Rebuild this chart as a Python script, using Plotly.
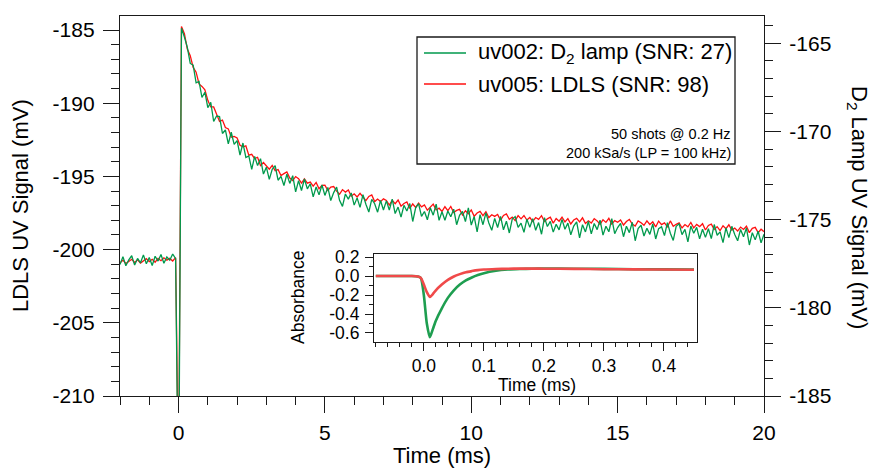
import plotly.graph_objects as go

# ---------------- data ----------------
# main traces sampled every 0.1 ms from -2.0 ms to 20.0 ms
t_start = -2.0
t_step = 0.1

ldls_mV = [
    -200.90, -200.72, -200.95, -200.78, -200.66, -200.88, -200.70, -200.92, -200.74, -200.62,
    -200.82, -200.66, -200.86, -200.60, -200.76, -200.56, -200.72, -200.60, -200.78, -200.55,
    -216.00,
    -184.75, -185.25, -186.30, -186.75, -187.55, -187.88, -188.68, -188.85, -189.08, -189.80,
    -190.25, -190.25, -190.73, -191.24, -191.15, -191.66, -191.75, -192.32, -192.27, -192.37,
    -192.87, -192.98, -192.91, -193.55, -193.49, -193.78, -193.69, -194.26, -194.05, -194.25,
    -194.50, -194.24, -194.60, -194.53, -194.94, -194.81, -194.69, -195.11, -195.28, -195.01,
    -195.15, -195.46, -195.17, -195.46, -195.39, -195.66, -195.41, -195.84, -195.61, -195.59,
    -195.96, -195.73, -195.69, -196.01, -196.22, -195.90, -196.07, -195.93, -196.35, -196.19,
    -196.40, -196.15, -196.40, -196.65, -196.37, -196.26, -196.72, -196.55, -196.72, -196.53,
    -196.64, -196.95, -196.63, -196.86, -196.61, -197.03, -196.85, -196.74, -197.19, -196.88,
    -197.11, -196.82, -197.08, -196.95, -197.31, -197.06, -196.89, -197.29, -197.17, -197.39,
    -197.07, -197.33, -197.05, -197.46, -197.32, -197.25, -197.64, -197.34, -197.55, -197.29,
    -197.72, -197.50, -197.39, -197.68, -197.41, -197.81, -197.62, -197.73, -197.59, -197.99,
    -197.67, -197.56, -197.93, -197.78, -198.02, -197.68, -197.90, -197.67, -197.98, -197.81,
    -198.07, -197.81, -197.93, -197.68, -198.08, -197.90, -197.78, -198.19, -197.87, -198.06,
    -197.79, -198.11, -197.88, -198.25, -197.98, -197.87, -198.11, -197.83, -198.21, -198.03,
    -198.19, -197.88, -198.04, -198.28, -197.96, -198.14, -197.86, -198.26, -198.02, -198.13,
    -197.97, -198.32, -198.08, -197.94, -198.26, -198.39, -198.04, -198.17, -198.34, -198.03,
    -198.28, -198.10, -198.45, -198.05, -198.29, -198.17, -198.44, -198.04, -198.41, -198.27,
    -198.17, -198.52, -198.29, -198.44, -198.14, -198.51, -198.28, -198.43, -198.23, -198.66,
    -198.35, -198.26, -198.62, -198.43, -198.70, -198.37, -198.57, -198.30, -198.66, -198.53,
    -198.73, -198.46, -198.62, -198.40, -198.84, -198.55, -198.48, -198.84, -198.61, -198.77,
]

d2_mV = [
    -177.55, -177.10, -177.62, -177.28, -177.05, -177.58, -177.20, -177.45, -177.00, -177.50,
    -177.15, -177.60, -177.08, -177.35, -176.98, -177.48, -177.12, -177.30, -176.95, -177.22,
    -192.00,
    -164.15, -164.65, -165.24, -166.15, -166.25, -167.25, -167.17, -168.08, -167.78, -168.66,
    -168.35, -169.44, -169.13, -169.16, -170.12, -169.92, -170.71, -170.05, -170.74, -170.52,
    -171.34, -170.66, -171.48, -171.39, -172.15, -171.42, -171.94, -171.55, -172.42, -172.03,
    -172.72, -172.15, -171.94, -172.77, -172.55, -173.07, -172.43, -172.95, -172.51, -173.43,
    -172.79, -173.35, -172.70, -173.26, -172.97, -173.71, -173.15, -173.60, -173.04, -173.63,
    -173.18, -173.92, -173.47, -173.16, -173.91, -174.25, -173.55, -173.84, -173.49, -174.18,
    -173.77, -174.31, -173.59, -174.13, -174.57, -173.86, -174.10, -174.58, -173.92, -174.46,
    -173.94, -174.46, -173.84, -174.66, -174.29, -174.86, -174.19, -174.51, -174.09, -175.11,
    -174.33, -174.10, -174.82, -174.54, -175.01, -174.33, -174.75, -174.12, -175.04, -174.56,
    -175.04, -174.51, -174.84, -174.41, -175.29, -174.76, -174.54, -175.11, -174.34, -175.31,
    -174.83, -175.70, -174.72, -175.29, -174.62, -175.19, -175.61, -174.93, -175.45, -174.82,
    -175.58, -175.09, -175.76, -174.97, -174.83, -175.44, -175.20, -175.72, -174.98, -175.44,
    -174.95, -175.61, -175.17, -175.83, -174.89, -175.39, -175.10, -175.71, -175.27, -175.58,
    -174.99, -175.55, -175.20, -175.86, -175.37, -175.13, -176.04, -175.29, -175.70, -175.11,
    -175.81, -175.22, -175.57, -175.03, -175.88, -175.38, -175.69, -174.94, -175.80, -175.45,
    -175.21, -175.97, -175.38, -175.74, -175.15, -176.20, -175.51, -175.32, -175.93, -175.49,
    -175.84, -175.25, -176.10, -175.51, -175.41, -175.91, -175.17, -175.77, -176.18, -175.38,
    -175.24, -175.85, -175.55, -176.26, -175.37, -175.78, -175.44, -176.09, -175.55, -176.01,
    -175.52, -176.08, -175.28, -175.89, -175.70, -176.31, -175.47, -176.02, -175.38, -175.84,
    -176.20, -175.56, -175.97, -175.48, -176.44, -175.74, -176.15, -175.66, -176.32, -175.83,
]

time_ms = [round(t_start + i * t_step, 2) for i in range(len(ldls_mV))]

# inset: absorbance
inset_time_ms = [-0.08, -0.06, -0.04, -0.02, -0.01, -0.005, 0.0, 0.005, 0.01, 0.015, 0.02,
                 0.03, 0.04, 0.05, 0.06, 0.07, 0.08, 0.09, 0.10, 0.12, 0.14, 0.16, 0.18,
                 0.20, 0.25, 0.30, 0.35, 0.40, 0.45]
inset_ldls_abs = [0.0, 0.0, 0.0, 0.0, -0.005, -0.02, -0.09, -0.17, -0.22, -0.19, -0.15,
                  -0.09, -0.04, -0.005, 0.02, 0.04, 0.052, 0.062, 0.068, 0.074, 0.077, 0.078,
                  0.078, 0.077, 0.075, 0.072, 0.070, 0.068, 0.066]
inset_d2_abs = [0.0, 0.0, 0.0, 0.0, -0.005, -0.02, -0.20, -0.50, -0.645, -0.56, -0.47,
                -0.34, -0.23, -0.15, -0.09, -0.045, -0.015, 0.01, 0.03, 0.055, 0.068, 0.074,
                0.077, 0.078, 0.077, 0.075, 0.072, 0.070, 0.068]

left_ticks = [-210, -205, -200, -195, -190, -185]
right_ticks = [-185, -180, -175, -170, -165]
inset_y_ticks = [-0.6, -0.4, -0.2, 0.0, 0.2]
inset_x_ticks = [0.0, 0.1, 0.2, 0.3, 0.4]

legend_labels = ["uv002: D<sub>2</sub> lamp (SNR: 27)", "uv005: LDLS (SNR: 98)"]
note_lines = ["50 shots @ 0.2 Hz", "200 kSa/s (LP = 100 kHz)"]

# ---------------- styling ----------------
FONT = "Liberation Sans, Arial, Helvetica, sans-serif"
GREEN = "#00994C"
RED = "#FF1010"
GREEN_I = "#1E9E50"
RED_I = "#F04A4A"
AX = "#1a1a1a"

W, H = 873, 468
L, R, T, B = 120, 109, 16, 72
pw, ph = W - L - R, H - T - B


def px(x):
    return (x - L) / pw


def py(y):
    return (H - B - y) / ph


def fmt(v):
    return "%g" % v


def fmt1(v):
    return "%.1f" % v


fig = go.Figure()
fig.add_trace(go.Scatter(x=time_ms, y=d2_mV, mode="lines", yaxis="y2",
                         line=dict(color=GREEN, width=1.3), showlegend=False))
fig.add_trace(go.Scatter(x=time_ms, y=ldls_mV, mode="lines", yaxis="y",
                         line=dict(color=RED, width=1.3), showlegend=False))
fig.add_trace(go.Scatter(x=inset_time_ms, y=inset_d2_abs, mode="lines", xaxis="x2", yaxis="y3",
                         line=dict(color=GREEN_I, width=2.6, shape="spline", smoothing=0.6),
                         showlegend=False))
fig.add_trace(go.Scatter(x=inset_time_ms, y=inset_ldls_abs, mode="lines", xaxis="x2", yaxis="y3",
                         line=dict(color=RED_I, width=2.6, shape="spline", smoothing=0.6),
                         showlegend=False))

tickfont = dict(family=FONT, size=21, color="#000")
inset_tickfont = dict(family=FONT, size=17.5, color="#000")

fig.update_layout(
    width=W, height=H,
    margin=dict(l=L, r=R, t=T, b=B, autoexpand=False),
    paper_bgcolor="white", plot_bgcolor="white",
    font=dict(family=FONT, color="#000"),
    xaxis=dict(domain=[0, 1], range=[-2, 20], tickmode="linear", tick0=0, dtick=5,
               ticks="outside", ticklen=16, tickwidth=1.3, tickcolor=AX,
               showline=True, linecolor=AX, linewidth=1.3, mirror=True,
               showgrid=False, zeroline=False, tickfont=tickfont, ticklabelstandoff=2,
               minor=dict(tickmode="linear", tick0=0, dtick=1, ticks="outside",
                          ticklen=8, tickwidth=1.3, tickcolor=AX, showgrid=False)),
    yaxis=dict(domain=[0, 1], range=[-210, -184.04], tickmode="array",
               tickvals=left_ticks, ticktext=[fmt(v) for v in left_ticks],
               ticks="outside", ticklen=16, tickwidth=1.3, tickcolor=AX,
               showline=True, linecolor=AX, linewidth=1.3,
               showgrid=False, zeroline=False, tickfont=tickfont, ticklabelstandoff=4,
               minor=dict(tickmode="linear", tick0=-210, dtick=1, ticks="outside",
                          ticklen=8, tickwidth=1.3, tickcolor=AX, showgrid=False)),
    yaxis2=dict(range=[-185, -163.46], overlaying="y", side="right", anchor="x",
                tickmode="array", tickvals=right_ticks, ticktext=[fmt(v) for v in right_ticks],
                ticks="outside", ticklen=16, tickwidth=1.3, tickcolor=AX,
                showline=True, linecolor=AX, linewidth=1.3,
                showgrid=False, zeroline=False, tickfont=tickfont, ticklabelstandoff=4,
                minor=dict(tickmode="linear", tick0=-185, dtick=1, ticks="outside",
                           ticklen=8, tickwidth=1.3, tickcolor=AX, showgrid=False)),
    xaxis2=dict(domain=[px(374), px(697)], anchor="y3", range=[-0.083, 0.455],
                tickmode="array", tickvals=inset_x_ticks, ticktext=[fmt1(v) for v in inset_x_ticks],
                ticks="outside", ticklen=8, tickwidth=1.2, tickcolor=AX,
                showline=True, linecolor=AX, linewidth=1.2, mirror=True,
                showgrid=False, zeroline=False, tickfont=inset_tickfont, ticklabelstandoff=0,
                minor=dict(tickmode="linear", tick0=0, dtick=0.02, ticks="outside",
                           ticklen=4, tickwidth=1.2, tickcolor=AX, showgrid=False)),
    yaxis3=dict(domain=[py(342), py(254)], anchor="x2", range=[-0.695, 0.232],
                tickmode="array", tickvals=inset_y_ticks,
                ticktext=[fmt1(v) for v in inset_y_ticks],
                ticks="outside", ticklen=8, tickwidth=1.2, tickcolor=AX,
                showline=True, linecolor=AX, linewidth=1.2, mirror=True,
                showgrid=False, zeroline=False, tickfont=inset_tickfont, ticklabelstandoff=2,
                minor=dict(tickmode="linear", tick0=0, dtick=0.1, ticks="outside",
                           ticklen=4, tickwidth=1.2, tickcolor=AX, showgrid=False)),
)

shapes = [
    # legend frame
    dict(type="rect", xref="paper", yref="paper", x0=px(417), x1=px(735), y0=py(164), y1=py(37),
         line=dict(color=AX, width=1.3), fillcolor="rgba(0,0,0,0)"),
    dict(type="line", xref="paper", yref="paper", x0=px(424), x1=px(466), y0=py(53), y1=py(53),
         line=dict(color=GREEN, width=1.3)),
    dict(type="line", xref="paper", yref="paper", x0=px(424), x1=px(466), y0=py(84), y1=py(84),
         line=dict(color=RED, width=1.3)),
]
fig.update_layout(shapes=shapes)

ann = [
    dict(text=legend_labels[0], x=px(476), y=py(53), xanchor="left", yanchor="middle",
         font=dict(family=FONT, size=22)),
    dict(text=legend_labels[1], x=px(476), y=py(84), xanchor="left", yanchor="middle",
         font=dict(family=FONT, size=22)),
    dict(text=note_lines[0], x=px(733), y=py(134), xanchor="right", yanchor="middle",
         font=dict(family=FONT, size=14.5)),
    dict(text=note_lines[1], x=px(733), y=py(153), xanchor="right", yanchor="middle",
         font=dict(family=FONT, size=14.5)),
    dict(text="LDLS UV Signal (mV)", x=px(20), y=py(206), textangle=-90,
         xanchor="center", yanchor="middle", font=dict(family=FONT, size=22)),
    dict(text="D<sub>2</sub> Lamp UV Signal (mV)", x=px(858), y=py(207), textangle=90,
         xanchor="center", yanchor="middle", font=dict(family=FONT, size=22)),
    dict(text="Time (ms)", x=px(442), y=py(455), xanchor="center", yanchor="middle",
         font=dict(family=FONT, size=22)),
    dict(text="Absorbance", x=px(298), y=py(298), textangle=-90,
         xanchor="center", yanchor="middle", font=dict(family=FONT, size=17.5)),
    dict(text="Time (ms)", x=px(537), y=py(385), xanchor="center", yanchor="middle",
         font=dict(family=FONT, size=17.5)),
]
for a in ann:
    a.update(xref="paper", yref="paper", showarrow=False)
fig.update_layout(annotations=ann)

fig.write_html("out.html",
               config={"displayModeBar": False},
               post_script="document.body.style.margin='0';document.body.style.overflow='hidden';")
